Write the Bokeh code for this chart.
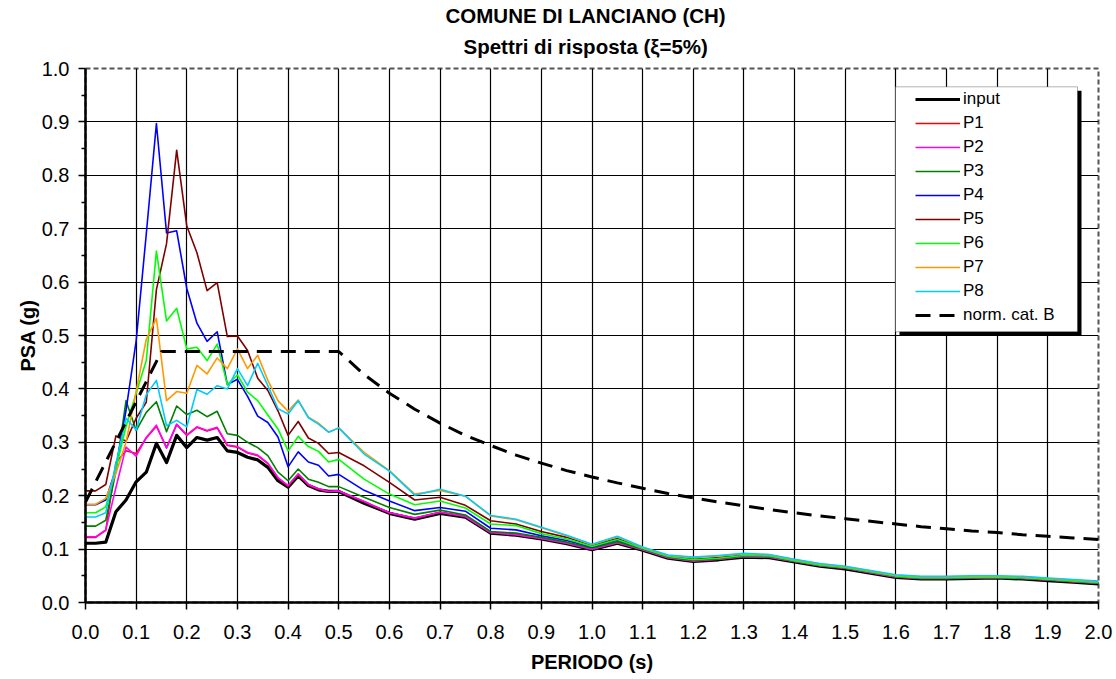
from bokeh.plotting import figure
from bokeh.models import (Range1d, FixedTicker, Legend, LegendItem, Title,
                          BoxAnnotation, PrintfTickFormatter)
from bokeh.embed import file_html
from bokeh.resources import INLINE

# ---------------- data ----------------
period = [0.00, 0.02, 0.04, 0.06, 0.08, 0.10, 0.12, 0.14, 0.16, 0.18, 0.20, 0.22, 0.24,
          0.26, 0.28, 0.30, 0.32, 0.34, 0.36, 0.38, 0.40, 0.42, 0.44, 0.46, 0.48, 0.50,
          0.55, 0.60, 0.65, 0.70, 0.75, 0.80, 0.85, 0.90, 0.95, 1.00, 1.05, 1.10, 1.15,
          1.20, 1.25, 1.30, 1.35, 1.40, 1.45, 1.50, 1.55, 1.60, 1.65, 1.70, 1.75, 1.80,
          1.85, 1.90, 1.95, 2.00]

psa_input = [0.111, 0.111, 0.113, 0.170, 0.192, 0.226, 0.244, 0.298, 0.262, 0.313, 0.290, 0.309, 0.304,
             0.309, 0.284, 0.281, 0.272, 0.267, 0.253, 0.228, 0.216, 0.237, 0.219, 0.211, 0.208, 0.208,
             0.186, 0.167, 0.156, 0.167, 0.160, 0.130, 0.126, 0.119, 0.110, 0.099, 0.111, 0.098, 0.083,
             0.077, 0.080, 0.085, 0.084, 0.076, 0.068, 0.063, 0.055, 0.047, 0.044, 0.044, 0.045, 0.046,
             0.044, 0.041, 0.038, 0.035]
psa_p1 = [0.122, 0.122, 0.135, 0.262, 0.284, 0.279, 0.308, 0.330, 0.290, 0.333, 0.313, 0.328, 0.321,
          0.327, 0.294, 0.291, 0.280, 0.275, 0.260, 0.233, 0.218, 0.240, 0.220, 0.212, 0.208, 0.209,
          0.189, 0.168, 0.158, 0.169, 0.161, 0.131, 0.127, 0.120, 0.111, 0.100, 0.112, 0.099, 0.084,
          0.078, 0.081, 0.086, 0.085, 0.077, 0.069, 0.064, 0.056, 0.048, 0.045, 0.045, 0.046, 0.047,
          0.045, 0.042, 0.039, 0.036]
psa_p2 = [0.123, 0.123, 0.136, 0.215, 0.291, 0.274, 0.309, 0.332, 0.289, 0.334, 0.314, 0.329, 0.322,
          0.328, 0.295, 0.292, 0.281, 0.276, 0.261, 0.234, 0.219, 0.241, 0.221, 0.213, 0.208, 0.209,
          0.189, 0.168, 0.158, 0.169, 0.161, 0.131, 0.127, 0.120, 0.111, 0.100, 0.112, 0.099, 0.084,
          0.078, 0.081, 0.086, 0.085, 0.077, 0.069, 0.064, 0.056, 0.048, 0.045, 0.045, 0.046, 0.047,
          0.045, 0.042, 0.039, 0.036]
psa_p3 = [0.143, 0.143, 0.154, 0.245, 0.378, 0.322, 0.356, 0.376, 0.320, 0.368, 0.352, 0.360, 0.348,
          0.358, 0.316, 0.313, 0.300, 0.290, 0.275, 0.244, 0.228, 0.250, 0.231, 0.225, 0.217, 0.217,
          0.197, 0.178, 0.165, 0.173, 0.164, 0.133, 0.130, 0.122, 0.113, 0.102, 0.114, 0.100, 0.085,
          0.079, 0.082, 0.087, 0.086, 0.078, 0.070, 0.065, 0.057, 0.049, 0.046, 0.046, 0.047, 0.047,
          0.046, 0.043, 0.040, 0.037]
psa_p4 = [0.183, 0.183, 0.192, 0.250, 0.360, 0.490, 0.690, 0.897, 0.692, 0.696, 0.588, 0.523, 0.489,
          0.507, 0.408, 0.418, 0.386, 0.349, 0.337, 0.310, 0.254, 0.282, 0.263, 0.257, 0.237, 0.240,
          0.210, 0.190, 0.172, 0.178, 0.171, 0.139, 0.136, 0.125, 0.116, 0.104, 0.117, 0.101, 0.086,
          0.080, 0.083, 0.088, 0.087, 0.078, 0.070, 0.065, 0.057, 0.049, 0.046, 0.046, 0.047, 0.047,
          0.046, 0.043, 0.040, 0.037]
psa_p5 = [0.209, 0.209, 0.221, 0.312, 0.302, 0.345, 0.375, 0.586, 0.672, 0.847, 0.705, 0.655, 0.584,
          0.599, 0.498, 0.499, 0.472, 0.420, 0.397, 0.359, 0.313, 0.339, 0.308, 0.298, 0.279, 0.281,
          0.256, 0.225, 0.192, 0.197, 0.182, 0.153, 0.147, 0.133, 0.122, 0.107, 0.120, 0.102, 0.087,
          0.081, 0.084, 0.089, 0.088, 0.079, 0.071, 0.066, 0.058, 0.050, 0.047, 0.047, 0.048, 0.048,
          0.047, 0.044, 0.041, 0.038]
psa_p6 = [0.168, 0.168, 0.179, 0.250, 0.330, 0.392, 0.453, 0.658, 0.527, 0.551, 0.475, 0.478, 0.453,
          0.484, 0.408, 0.426, 0.394, 0.378, 0.351, 0.325, 0.284, 0.311, 0.292, 0.283, 0.263, 0.268,
          0.231, 0.203, 0.183, 0.190, 0.177, 0.147, 0.144, 0.129, 0.119, 0.105, 0.118, 0.101, 0.086,
          0.080, 0.083, 0.088, 0.087, 0.078, 0.070, 0.065, 0.057, 0.049, 0.046, 0.046, 0.047, 0.047,
          0.046, 0.043, 0.040, 0.037]
psa_p7 = [0.184, 0.184, 0.195, 0.242, 0.300, 0.395, 0.493, 0.532, 0.378, 0.395, 0.392, 0.444, 0.428,
          0.458, 0.438, 0.475, 0.438, 0.463, 0.416, 0.378, 0.358, 0.379, 0.347, 0.336, 0.319, 0.327,
          0.281, 0.247, 0.203, 0.210, 0.199, 0.162, 0.155, 0.140, 0.125, 0.108, 0.123, 0.103, 0.088,
          0.084, 0.087, 0.091, 0.089, 0.080, 0.072, 0.067, 0.059, 0.051, 0.048, 0.048, 0.049, 0.049,
          0.048, 0.045, 0.042, 0.039]
psa_p8 = [0.160, 0.160, 0.168, 0.260, 0.345, 0.323, 0.389, 0.416, 0.331, 0.341, 0.329, 0.399, 0.390,
          0.406, 0.400, 0.438, 0.406, 0.448, 0.406, 0.363, 0.353, 0.378, 0.346, 0.334, 0.319, 0.327,
          0.278, 0.246, 0.201, 0.212, 0.199, 0.163, 0.156, 0.141, 0.126, 0.109, 0.124, 0.104, 0.089,
          0.085, 0.088, 0.092, 0.090, 0.081, 0.073, 0.068, 0.060, 0.052, 0.049, 0.049, 0.050, 0.050,
          0.049, 0.046, 0.043, 0.040]

norm_period = [0.00, 0.15, 0.50, 0.55, 0.60, 0.65, 0.70, 0.75, 0.80, 0.85, 0.90, 0.95, 1.00,
               1.05, 1.10, 1.15, 1.20, 1.25, 1.30, 1.35, 1.40, 1.45, 1.50, 1.55, 1.60, 1.65,
               1.70, 1.75, 1.80, 1.85, 1.90, 1.95, 2.00]
norm_psa = [0.188, 0.470, 0.470, 0.427, 0.392, 0.362, 0.336, 0.313, 0.294, 0.276, 0.261, 0.247, 0.235,
            0.224, 0.214, 0.204, 0.196, 0.188, 0.181, 0.174, 0.168, 0.162, 0.157, 0.152, 0.147, 0.142,
            0.138, 0.134, 0.131, 0.127, 0.124, 0.121, 0.118]

x_ticks = [0.0, 0.1, 0.2, 0.3, 0.4, 0.5, 0.6, 0.7, 0.8, 0.9, 1.0, 1.1, 1.2, 1.3, 1.4, 1.5, 1.6, 1.7, 1.8, 1.9, 2.0]
y_ticks = [0.0, 0.1, 0.2, 0.3, 0.4, 0.5, 0.6, 0.7, 0.8, 0.9, 1.0]
y_minor = [0.05, 0.15, 0.25, 0.35, 0.45, 0.55, 0.65, 0.75, 0.85, 0.95]

series = [
    ("input", psa_input, "#000000", 3.2),
    ("P1", psa_p1, "#FF0000", 1.6),
    ("P2", psa_p2, "#FF00FF", 1.6),
    ("P3", psa_p3, "#008000", 1.6),
    ("P4", psa_p4, "#0000FF", 1.6),
    ("P5", psa_p5, "#800000", 1.6),
    ("P6", psa_p6, "#00FF00", 1.6),
    ("P7", psa_p7, "#FF9900", 1.6),
    ("P8", psa_p8, "#00CCFF", 1.6),
]

FONT = "Liberation Sans"

# ---------------- figure ----------------
p = figure(width=1116, height=679, output_backend="svg", toolbar_location=None,
           x_range=Range1d(0, 2.0), y_range=Range1d(0, 1.0),
           min_border_left=85, min_border_right=18, min_border_top=68, min_border_bottom=77,
           background_fill_color="white", border_fill_color="white")

p.outline_line_color = "#555555"
p.outline_line_width = 2
p.outline_line_dash = "5 3"

# grids
p.xgrid.ticker = FixedTicker(ticks=x_ticks[1:])
p.ygrid.ticker = FixedTicker(ticks=y_ticks[1:-1])
for g in (p.xgrid, p.ygrid):
    g.grid_line_color = "black"
    g.grid_line_width = 1.2

# axes
p.xaxis.ticker = FixedTicker(ticks=x_ticks, minor_ticks=[])
p.yaxis.ticker = FixedTicker(ticks=y_ticks, minor_ticks=y_minor)
p.xaxis.formatter = PrintfTickFormatter(format="%.1f")
p.yaxis.formatter = PrintfTickFormatter(format="%.1f")
for ax in (p.xaxis[0], p.yaxis[0]):
    ax.axis_line_color = "black"
    ax.axis_line_width = 2.5
    ax.major_tick_line_color = "black"
    ax.major_tick_line_width = 1.5
    ax.major_tick_in = 0
    ax.major_tick_out = 7
    ax.minor_tick_line_color = "black"
    ax.minor_tick_line_width = 1.5
    ax.minor_tick_in = 0
    ax.major_label_text_font = FONT
    ax.major_label_text_font_size = "20px"
    ax.major_label_text_color = "black"
    ax.axis_label_text_font = FONT
    ax.axis_label_text_font_size = "20px"
    ax.axis_label_text_font_style = "bold"
    ax.axis_label_text_color = "black"
p.xaxis.minor_tick_out = 0
p.yaxis.minor_tick_out = 4
p.xaxis.axis_label = "PERIODO (s)"
p.yaxis.axis_label = "PSA (g)"
p.xaxis.major_label_standoff = 15
p.xaxis.axis_label_standoff = 9
p.yaxis.major_label_standoff = 9
p.yaxis.axis_label_standoff = 0

# titles (first added sits closest to the frame)
p.add_layout(Title(text="Spettri di risposta (\u03be=5%)", align="left", offset=378,
                   text_font=FONT, text_font_size="20.5px", text_font_style="bold",
                   text_color="black", standoff=22), "above")
p.add_layout(Title(text="COMUNE DI LANCIANO (CH)", align="left", offset=360,
                   text_font=FONT, text_font_size="20.5px", text_font_style="bold",
                   text_color="black", standoff=-11), "above")

# ---------------- lines ----------------
items = []
for name, vals, color, w in series:
    r = p.line(period, vals, line_color=color, line_width=w, line_join="round")
    items.append(LegendItem(label=name, renderers=[r]))
rn = p.line(norm_period, norm_psa, line_color="black", line_width=3, line_dash="15 9")
items.append(LegendItem(label="norm. cat. B", renderers=[rn]))

# ---------------- legend box (Excel-like, with shadow) ----------------
PX = 1013 / 2.0   # pixels per data unit (x)
PY = 534 / 1.0    # pixels per data unit (y)
def dx(px):
    return (px - 85) / PX
def dy(py):
    return (601.7 - py) / PY

shadow = BoxAnnotation(left=dx(899), right=dx(1081), top=dy(90), bottom=dy(335),
                       fill_color="black", fill_alpha=1.0, line_alpha=0)
box = BoxAnnotation(left=dx(895), right=dx(1077), top=dy(86), bottom=dy(331),
                    fill_color="white", fill_alpha=1.0, line_color="black", line_width=1)
p.add_layout(shadow)
p.add_layout(box)

legend = Legend(items=items, location=(830, 277), padding=0, margin=0, spacing=4,
                label_height=20, glyph_height=20, glyph_width=45, label_standoff=3,
                border_line_alpha=0, background_fill_alpha=0,
                label_text_font=FONT, label_text_font_size="17px", label_text_color="black")
p.add_layout(legend)

open("out.html", "w").write(file_html(p, INLINE))
